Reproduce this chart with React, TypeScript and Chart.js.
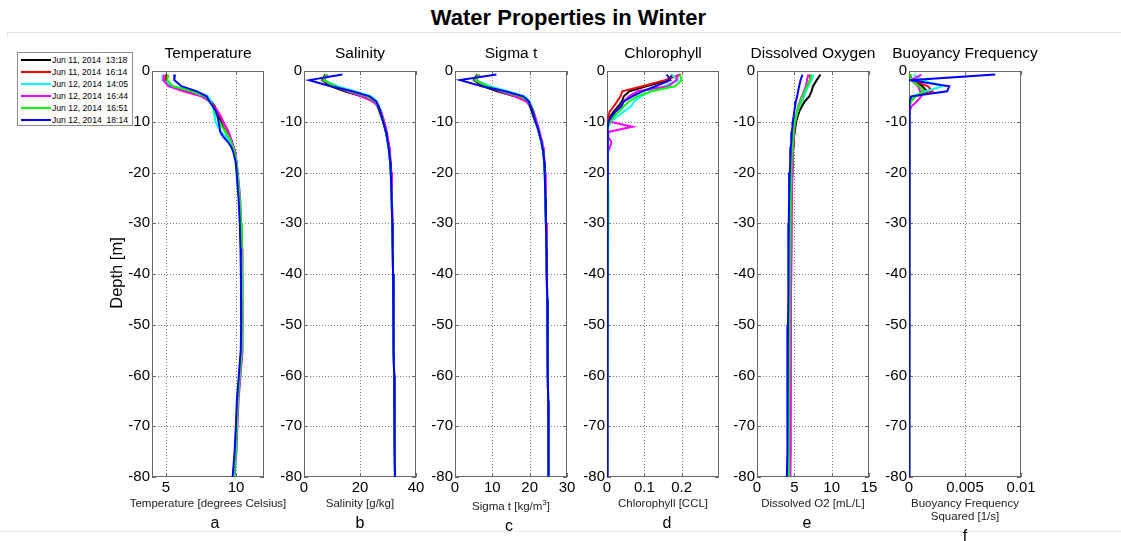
import React, { useEffect, useRef } from 'react';
import { Chart, registerables } from 'chart.js';

Chart.register(...registerables);

const FONT = '"Liberation Sans", Arial, Helvetica, sans-serif';

// ---- series (one CTD cast each) ----
const seriesLabels = [
  'Jun 11, 2014  13:18',
  'Jun 11, 2014  16:14',
  'Jun 12, 2014  14:05',
  'Jun 12, 2014  16:44',
  'Jun 12, 2014  16:51',
  'Jun 12, 2014  18:14',
];
const seriesColors = ['#000000', '#ff0000', '#00ffff', '#ff00ff', '#00ff00', '#0000ff'];

// ---- depth levels shared by every cast [m] ----
const depth = [-0.7, -1.8, -3, -4, -5, -6, -7, -8, -9, -10, -11, -12, -13, -14, -15, -16, -18, -20, -25, -30, -35, -40, -45, -50, -55, -60, -65, -70, -75, -80];
const depthTicks = [0, -10, -20, -30, -40, -50, -60, -70, -80];

// ---- Temperature [degrees Celsius] ----
const temperature = [
  [5.05, 5.00, 5.33, 6.46, 7.64, 8.23, 8.49, 8.63, 8.77, 8.92, 9.06, 9.25, 9.48, 9.67, 9.80, 9.93, 10.02, 10.08, 10.22, 10.32, 10.36, 10.40, 10.41, 10.40, 10.38, 10.24, 10.10, 10.04, 9.95, 9.80],
  [5.00, 4.93, 5.40, 6.70, 7.64, 8.16, 8.47, 8.70, 8.87, 9.06, 9.25, 9.43, 9.58, 9.72, 9.83, 9.95, 10.03, 10.10, 10.25, 10.34, 10.40, 10.42, 10.43, 10.44, 10.42, 10.28, 10.14, 10.06, 9.98, 9.84],
  [4.76, 4.76, 5.50, 7.17, 8.00, 8.23, 8.35, 8.40, 8.47, 8.54, 8.70, 8.94, 9.29, 9.58, 9.76, 9.88, 10.04, 10.12, 10.27, 10.36, 10.41, 10.44, 10.45, 10.46, 10.44, 10.30, 10.16, 10.08, 10.04, 9.90],
  [4.86, 4.81, 5.17, 6.23, 7.52, 8.11, 8.40, 8.70, 8.94, 9.10, 9.29, 9.48, 9.60, 9.72, 9.83, 9.95, 10.05, 10.13, 10.30, 10.38, 10.44, 10.46, 10.47, 10.48, 10.46, 10.32, 10.18, 10.10, 10.02, 9.88],
  [5.17, 5.09, 5.47, 6.82, 7.76, 8.16, 8.35, 8.49, 8.63, 8.82, 9.01, 9.25, 9.48, 9.65, 9.79, 9.91, 10.03, 10.11, 10.27, 10.36, 10.42, 10.44, 10.45, 10.44, 10.42, 10.27, 10.13, 10.06, 9.99, 9.85],
  [5.64, 5.59, 6.10, 7.20, 7.90, 8.11, 8.35, 8.58, 8.70, 8.75, 8.82, 8.87, 9.10, 9.43, 9.67, 9.81, 9.98, 10.04, 10.18, 10.27, 10.32, 10.35, 10.36, 10.37, 10.34, 10.20, 10.06, 9.99, 9.90, 9.76],
];
const temperatureTicks = [5, 10];

// ---- Salinity [g/kg] ----
const salinity = [
  [7.6, 6.5, 9.5, 14.5, 20.5, 25.0, 26.3, 27.0, 27.6, 28.2, 28.7, 29.2, 29.6, 29.9, 30.2, 30.4, 30.8, 31.0, 31.3, 31.5, 31.7, 31.8, 31.9, 32.0, 32.1, 32.2, 32.3, 32.4, 32.4, 32.5],
  [7.8, 6.8, 10.5, 16.0, 22.0, 25.3, 26.6, 27.3, 27.8, 28.4, 28.9, 29.4, 29.7, 30.0, 30.3, 30.5, 30.9, 31.1, 31.4, 31.6, 31.7, 31.8, 31.9, 32.0, 32.1, 32.2, 32.3, 32.4, 32.5, 32.5],
  [8.0, 7.0, 12.0, 18.0, 24.0, 26.0, 26.9, 27.5, 28.0, 28.5, 28.9, 29.3, 29.6, 29.9, 30.2, 30.4, 30.8, 31.0, 31.3, 31.5, 31.7, 31.8, 31.9, 32.0, 32.1, 32.2, 32.3, 32.4, 32.4, 32.5],
  [8.5, 7.2, 11.0, 15.5, 20.5, 24.5, 26.7, 27.6, 28.2, 28.7, 29.2, 29.6, 29.9, 30.2, 30.5, 30.7, 31.0, 31.2, 31.4, 31.6, 31.7, 31.8, 31.9, 32.0, 32.1, 32.2, 32.3, 32.4, 32.5, 32.5],
  [8.2, 7.0, 11.0, 16.5, 22.5, 25.5, 26.7, 27.4, 27.9, 28.4, 28.8, 29.3, 29.6, 29.9, 30.2, 30.4, 30.8, 31.0, 31.3, 31.5, 31.7, 31.8, 31.9, 32.0, 32.1, 32.2, 32.3, 32.4, 32.4, 32.5],
  [13.7, 1.9, 9.5, 17.3, 23.4, 25.8, 26.7, 27.3, 27.8, 28.3, 28.8, 29.3, 29.6, 29.9, 30.2, 30.4, 30.8, 31.0, 31.3, 31.5, 31.7, 31.8, 31.9, 32.0, 32.1, 32.2, 32.3, 32.4, 32.4, 32.5],
];
const salinityTicks = [0, 20, 40];

// ---- Sigma t [kg/m^3] ----
const sigmaT = [
  [5.9, 5.1, 7.4, 11.3, 16.0, 19.3, 20.1, 20.6, 21.0, 21.5, 22.0, 22.4, 22.8, 23.1, 23.4, 23.6, 23.9, 24.05, 24.2, 24.35, 24.5, 24.6, 24.7, 24.8, 24.85, 24.9, 24.95, 25.0, 25.05, 25.1],
  [6.1, 5.3, 8.2, 12.5, 17.2, 19.6, 20.4, 20.9, 21.3, 21.7, 22.1, 22.5, 22.8, 23.2, 23.4, 23.7, 23.95, 24.1, 24.25, 24.4, 24.5, 24.6, 24.7, 24.8, 24.85, 24.9, 24.95, 25.0, 25.05, 25.1],
  [6.3, 5.5, 9.4, 14.0, 18.7, 20.0, 20.6, 21.0, 21.4, 21.7, 22.1, 22.5, 22.8, 23.1, 23.4, 23.7, 23.9, 24.05, 24.2, 24.35, 24.5, 24.6, 24.7, 24.8, 24.85, 24.9, 24.95, 25.0, 25.05, 25.1],
  [6.6, 5.6, 8.6, 12.1, 16.0, 19.0, 20.5, 21.1, 21.5, 21.9, 22.3, 22.7, 23.0, 23.4, 23.6, 23.8, 24.0, 24.15, 24.3, 24.4, 24.5, 24.6, 24.7, 24.8, 24.85, 24.9, 24.95, 25.0, 25.05, 25.1],
  [6.4, 5.5, 8.6, 12.9, 17.6, 19.8, 20.4, 20.9, 21.2, 21.6, 22.1, 22.5, 22.8, 23.2, 23.4, 23.7, 23.9, 24.05, 24.2, 24.35, 24.5, 24.6, 24.7, 24.8, 24.85, 24.9, 24.95, 25.0, 25.05, 25.1],
  [11.1, 1.35, 7.2, 13.5, 18.3, 19.8, 20.3, 20.8, 21.2, 21.6, 22.1, 22.5, 22.8, 23.2, 23.4, 23.7, 23.9, 24.05, 24.2, 24.35, 24.5, 24.6, 24.7, 24.8, 24.85, 24.9, 24.95, 25.0, 25.05, 25.1],
];
const sigmaTicks = [0, 10, 20, 30];

// ---- Chlorophyll [CCL] ----
const chlorophyll = [
  [0.175, 0.165, 0.105, 0.060, 0.045, 0.040, 0.030, 0.018, 0.008, 0.003, 0.002, 0.002, 0.001, 0.001, 0.001, 0.001, 0.001, 0.001, 0.001, 0.001, 0.001, 0.001, 0.001, 0.001, 0.001, 0.001, 0.001, 0.001, 0.001, 0.001],
  [0.198, 0.155, 0.095, 0.041, 0.036, 0.027, 0.018, 0.007, 0.003, 0.001, 0.001, 0.001, 0.001, 0.001, 0.001, 0.001, 0.002, 0.001, 0.001, 0.001, 0.001, 0.001, 0.001, 0.001, 0.001, 0.001, 0.001, 0.001, 0.001, 0.001],
  [0.173, 0.190, 0.155, 0.118, 0.090, 0.073, 0.064, 0.045, 0.027, 0.009, 0.003, 0.002, 0.002, 0.002, 0.001, 0.001, 0.001, 0.001, 0.001, 0.001, 0.001, 0.001, 0.001, 0.001, 0.001, 0.001, 0.001, 0.001, 0.001, 0.001],
  [0.190, 0.186, 0.164, 0.082, 0.059, 0.045, 0.036, 0.023, 0.014, 0.009, 0.068, 0.004, 0.003, 0.012, 0.008, 0.002, 0.002, 0.003, 0.002, 0.002, 0.002, 0.002, 0.002, 0.002, 0.002, 0.002, 0.002, 0.002, 0.002, 0.002],
  [0.195, 0.200, 0.182, 0.118, 0.082, 0.059, 0.045, 0.032, 0.018, 0.009, 0.003, 0.002, 0.002, 0.002, 0.002, 0.002, 0.002, 0.002, 0.004, 0.003, 0.003, 0.002, 0.002, 0.002, 0.001, 0.001, 0.001, 0.001, 0.001, 0.001],
  [0.160, 0.170, 0.130, 0.095, 0.068, 0.045, 0.038, 0.023, 0.011, 0.004, 0.002, 0.001, 0.001, 0.001, 0.001, 0.001, 0.001, 0.001, 0.001, 0.001, 0.001, 0.001, 0.001, 0.001, 0.001, 0.001, 0.001, 0.001, 0.001, 0.001],
];
const chlorophyllTicks = [0, 0.1, 0.2];

// ---- Dissolved O2 [mL/L] ----
const oxygen = [
  [8.50, 8.00, 7.50, 7.30, 7.00, 6.40, 6.00, 5.65, 5.43, 5.25, 5.15, 5.05, 4.95, 4.90, 4.85, 4.80, 4.75, 4.70, 4.60, 4.55, 4.50, 4.50, 4.45, 4.45, 4.40, 4.40, 4.35, 4.35, 4.30, 4.30],
  [7.20, 7.10, 6.70, 6.40, 6.30, 6.00, 5.65, 5.45, 5.30, 5.15, 5.05, 5.00, 4.95, 4.90, 4.85, 4.80, 4.75, 4.70, 4.65, 4.60, 4.58, 4.55, 4.52, 4.50, 4.50, 4.48, 4.46, 4.44, 4.42, 4.40],
  [7.60, 7.30, 6.86, 6.55, 6.28, 5.96, 5.65, 5.43, 5.25, 5.10, 5.00, 4.90, 4.85, 4.80, 4.75, 4.70, 4.65, 4.60, 4.52, 4.48, 4.45, 4.42, 4.40, 4.38, 4.36, 4.35, 4.34, 4.32, 4.31, 4.30],
  [6.86, 6.70, 6.55, 6.28, 6.00, 5.74, 5.50, 5.34, 5.20, 5.05, 5.00, 4.95, 4.90, 4.85, 4.82, 4.78, 4.74, 4.70, 4.65, 4.62, 4.60, 4.58, 4.55, 4.55, 4.52, 4.50, 4.48, 4.46, 4.44, 4.42],
  [7.30, 7.10, 6.70, 6.40, 6.10, 5.83, 5.56, 5.38, 5.20, 5.05, 4.95, 4.90, 4.85, 4.80, 4.75, 4.70, 4.65, 4.60, 4.52, 4.47, 4.43, 4.40, 4.37, 4.35, 4.32, 4.30, 4.27, 4.25, 4.22, 4.20],
  [6.10, 5.83, 5.65, 5.50, 5.38, 5.20, 5.10, 4.98, 4.90, 4.80, 4.75, 4.66, 4.62, 4.57, 4.52, 4.48, 4.42, 4.40, 4.30, 4.25, 4.22, 4.20, 4.17, 4.15, 4.12, 4.10, 4.07, 4.05, 4.02, 4.00],
];
const oxygenTicks = [0, 5, 10, 15];

// ---- Buoyancy frequency squared [1/s] ----
const buoyancy = [
  [0.0001, 0.0002, 0.0012, 0.0016, 0.0005, 0.0001, 0.00003, 0.00002, 0.00002, 0.00002, 0.00002, 0.00002, 0.00002, 0.00002, 0.00002, 0.00002, 0.00002, 0.00002, 0.00002, 0.00002, 0.00002, 0.00002, 0.00002, 0.00002, 0.00002, 0.00002, 0.00002, 0.00002, 0.00002, 0.00002],
  [0.0001, 0.0003, 0.0017, 0.0021, 0.0006, 0.0001, 0.00003, 0.00002, 0.00002, 0.00002, 0.00002, 0.00002, 0.00002, 0.00002, 0.00002, 0.00002, 0.00002, 0.00002, 0.00002, 0.00002, 0.00002, 0.00002, 0.00002, 0.00002, 0.00002, 0.00002, 0.00002, 0.00002, 0.00002, 0.00002],
  [0.0004, 0.0012, 0.0030, 0.0015, 0.0003, 0.0001, 0.00003, 0.00002, 0.00002, 0.00002, 0.00002, 0.00002, 0.00002, 0.00002, 0.00002, 0.00002, 0.00002, 0.00002, 0.00002, 0.00002, 0.00002, 0.00002, 0.00002, 0.00002, 0.00002, 0.00002, 0.00002, 0.00002, 0.00002, 0.00002],
  [0.0011, 0.0002, 0.0008, 0.0010, 0.0011, 0.0007, 0.0002, 0.00003, 0.00002, 0.00002, 0.00002, 0.00002, 0.00002, 0.00002, 0.00002, 0.00002, 0.00002, 0.00002, 0.00002, 0.00002, 0.00002, 0.00002, 0.00002, 0.00002, 0.00002, 0.00002, 0.00002, 0.00002, 0.00002, 0.00002],
  [0.0001, 0.0002, 0.0009, 0.0013, 0.0006, 0.0002, 0.00003, 0.00002, 0.00002, 0.00002, 0.00002, 0.00002, 0.00002, 0.00002, 0.00002, 0.00002, 0.00002, 0.00002, 0.00002, 0.00002, 0.00002, 0.00002, 0.00002, 0.00002, 0.00002, 0.00002, 0.00002, 0.00002, 0.00002, 0.00002],
  [0.0077, 0.0001, 0.0036, 0.0034, 0.0002, 0.00005, 0.00003, 0.00002, 0.00002, 0.00002, 0.00002, 0.00002, 0.00002, 0.00002, 0.00002, 0.00002, 0.00002, 0.00002, 0.00002, 0.00002, 0.00002, 0.00002, 0.00002, 0.00002, 0.00002, 0.00002, 0.00002, 0.00002, 0.00002, 0.00002],
];
const buoyancyTicks = [0, 0.005, 0.01];

// ---- layout ----
const PLOT_TOP = 71;
const PLOT_H = 406;
const PLOT_W = 112;
const CANVAS_TOP = 36;
const CANVAS_H = 541 - CANVAS_TOP;
const Y_AXIS_W = 70;
const PAD_RIGHT = 50;
const GRID_COLOR = '#808080';
const BOX_COLOR = '#6a6a6a';

type Segment = { text: string; sup?: boolean };
type Panel = {
  title: string;
  label: Segment[][];
  letter: string;
  values: number[][];
  min: number;
  max: number;
  ticks: number[];
  left: number;
  labelDrop: number;
  letterShift: number;
};

const panels: Panel[] = [
  { title: 'Temperature', label: [[{ text: 'Temperature [degrees Celsius]' }]], letter: 'a', values: temperature, min: 4, max: 12, ticks: temperatureTicks, left: 152, labelDrop: 0, letterShift: 7 },
  { title: 'Salinity', label: [[{ text: 'Salinity [g/kg]' }]], letter: 'b', values: salinity, min: 0, max: 40, ticks: salinityTicks, left: 304, labelDrop: 0, letterShift: 0 },
  { title: 'Sigma t', label: [[{ text: 'Sigma t [kg/m' }, { text: '3', sup: true }, { text: ']' }]], letter: 'c', values: sigmaT, min: 0, max: 30, ticks: sigmaTicks, left: 455, labelDrop: 3, letterShift: -2 },
  { title: 'Chlorophyll', label: [[{ text: 'Chlorophyll [CCL]' }]], letter: 'd', values: chlorophyll, min: 0, max: 0.3, ticks: chlorophyllTicks, left: 607, labelDrop: 0, letterShift: 4 },
  { title: 'Dissolved Oxygen', label: [[{ text: 'Dissolved O2 [mL/L]' }]], letter: 'e', values: oxygen, min: 0, max: 15, ticks: oxygenTicks, left: 757, labelDrop: 0, letterShift: -6 },
  { title: 'Buoyancy Frequency', label: [[{ text: 'Buoyancy Frequency' }], [{ text: 'Squared [1/s]' }]], letter: 'f', values: buoyancy, min: 0, max: 0.01, ticks: buoyancyTicks, left: 909, labelDrop: 0, letterShift: 0 },
];

function makeDecor(panel: Panel, index: number) {
  return {
    id: 'panelDecor' + index,
    beforeDatasetsDraw(chart: any) {
      const { ctx, chartArea } = chart;
      const { left, right, top, bottom } = chartArea;
      const xs = chart.scales.x;
      const ys = chart.scales.y;
      ctx.save();
      // dotted grid at interior ticks
      ctx.strokeStyle = GRID_COLOR;
      ctx.lineWidth = 1;
      ctx.setLineDash([1, 2]);
      panel.ticks.forEach((v) => {
        if (v <= panel.min || v >= panel.max) return;
        const px = Math.round(xs.getPixelForValue(v)) + 0.5;
        ctx.beginPath();
        ctx.moveTo(px, top);
        ctx.lineTo(px, bottom);
        ctx.stroke();
      });
      depthTicks.forEach((v) => {
        if (v <= -80 || v >= 0) return;
        const py = Math.round(ys.getPixelForValue(v)) + 0.5;
        ctx.beginPath();
        ctx.moveTo(left, py);
        ctx.lineTo(right, py);
        ctx.stroke();
      });
      ctx.setLineDash([]);
      // box and inward tick marks
      ctx.strokeStyle = BOX_COLOR;
      ctx.strokeRect(left + 0.5, top + 0.5, right - left - 1, bottom - top - 1);
      ctx.beginPath();
      panel.ticks.forEach((v) => {
        const px = Math.round(xs.getPixelForValue(v)) + 0.5;
        ctx.moveTo(px, bottom);
        ctx.lineTo(px, bottom - 4);
        ctx.moveTo(px, top);
        ctx.lineTo(px, top + 4);
      });
      depthTicks.forEach((v) => {
        const py = Math.round(ys.getPixelForValue(v)) + 0.5;
        ctx.moveTo(left, py);
        ctx.lineTo(left + 4, py);
        ctx.moveTo(right, py);
        ctx.lineTo(right - 4, py);
      });
      ctx.stroke();
      ctx.restore();
    },
    afterDraw(chart: any) {
      const { ctx, chartArea } = chart;
      const cx = (chartArea.left + chartArea.right) / 2;
      ctx.save();
      ctx.fillStyle = '#000';
      ctx.textBaseline = 'alphabetic';
      // panel title
      ctx.font = `15.5px ${FONT}`;
      ctx.textAlign = 'center';
      ctx.fillText(panel.title, cx, 58 - CANVAS_TOP);
      // x-axis label, possibly multi-line with a superscript
      ctx.textAlign = 'left';
      ctx.fillStyle = '#222';
      const baseline = 507 - CANVAS_TOP + panel.labelDrop;
      panel.label.forEach((line, li) => {
        const y = baseline + li * 13;
        let total = 0;
        line.forEach((seg) => {
          ctx.font = seg.sup ? `8px ${FONT}` : `11.5px ${FONT}`;
          total += ctx.measureText(seg.text).width;
        });
        let x = cx - total / 2;
        line.forEach((seg) => {
          ctx.font = seg.sup ? `8px ${FONT}` : `11.5px ${FONT}`;
          ctx.fillText(seg.text, x, seg.sup ? y - 5 : y);
          x += ctx.measureText(seg.text).width;
        });
      });
      const lastBaseline = baseline + (panel.label.length - 1) * 13;
      // panel letter
      ctx.fillStyle = '#000';
      ctx.textAlign = 'center';
      ctx.font = `16px ${FONT}`;
      ctx.fillText(panel.letter, cx + panel.letterShift, lastBaseline + 21);
      // shared depth label on the first panel
      if (index === 0) {
        ctx.save();
        ctx.translate(117 - (panel.left - Y_AXIS_W), 273 - CANVAS_TOP);
        ctx.rotate(-Math.PI / 2);
        ctx.font = `16.5px ${FONT}`;
        ctx.textAlign = 'center';
        ctx.textBaseline = 'middle';
        ctx.fillText('Depth [m]', 0, 0);
        ctx.restore();
      }
      ctx.restore();
    },
  };
}

function PanelChart({ panel, index }: { panel: Panel; index: number }) {
  const ref = useRef<HTMLCanvasElement>(null);
  useEffect(() => {
    const canvas = ref.current;
    if (!canvas) return;
    const datasets = panel.values.map((vals, s) => ({
      label: seriesLabels[s],
      data: vals.map((v, k) => ({ x: v, y: depth[k] })),
      showLine: true,
      borderColor: seriesColors[s],
      backgroundColor: seriesColors[s],
      borderWidth: 2,
      pointRadius: 0,
      pointHoverRadius: 0,
      fill: false,
      tension: 0,
      order: -s,
    }));
    const tickFont = { family: FONT, size: 15 };
    const chart = new Chart(canvas, {
      type: 'scatter',
      data: { datasets },
      options: {
        animation: false,
        responsive: false,
        devicePixelRatio: 1,
        events: [],
        layout: { padding: { left: 0, right: PAD_RIGHT, top: PLOT_TOP - CANVAS_TOP, bottom: 0 } },
        plugins: { legend: { display: false }, tooltip: { enabled: false }, title: { display: false } },
        scales: {
          x: {
            type: 'linear',
            position: 'bottom',
            min: panel.min,
            max: panel.max,
            grid: { display: false, drawTicks: false },
            border: { display: false },
            afterBuildTicks: (axis: any) => {
              axis.ticks = panel.ticks.map((v) => ({ value: v }));
            },
            afterFit: (axis: any) => {
              axis.height = CANVAS_H - (PLOT_TOP - CANVAS_TOP) - PLOT_H;
              axis.paddingLeft = 0;
              axis.paddingRight = 0;
            },
            ticks: {
              font: tickFont,
              color: '#000',
              padding: 2,
              maxRotation: 0,
              minRotation: 0,
              autoSkip: false,
              callback: (v: any) => String(v),
            },
          },
          y: {
            type: 'linear',
            position: 'left',
            min: -80,
            max: 0,
            grid: { display: false, drawTicks: false },
            border: { display: false },
            afterBuildTicks: (axis: any) => {
              axis.ticks = depthTicks.map((v) => ({ value: v }));
            },
            afterFit: (axis: any) => {
              axis.width = Y_AXIS_W;
              axis.paddingTop = 0;
              axis.paddingBottom = 0;
            },
            ticks: {
              font: tickFont,
              color: '#000',
              padding: 2,
              autoSkip: false,
              callback: (v: any) => String(v),
            },
          },
        },
      },
      plugins: [makeDecor(panel, index)],
    });
    return () => chart.destroy();
  }, [panel, index]);

  return (
    <canvas
      ref={ref}
      width={Y_AXIS_W + PLOT_W + PAD_RIGHT}
      height={CANVAS_H}
      style={{ position: 'absolute', left: panel.left - Y_AXIS_W, top: CANVAS_TOP, display: 'block' }}
    />
  );
}

function Legend() {
  return (
    <div
      style={{
        position: 'absolute',
        left: 17,
        top: 52,
        width: 114,
        height: 71,
        border: '1px solid #8c8c8c',
        background: '#fff',
        zIndex: 2,
        paddingTop: 1,
        boxSizing: 'content-box',
      }}
    >
      {seriesLabels.map((label, i) => (
        <div key={i} style={{ position: 'relative', height: 12.1 }}>
          <div style={{ position: 'absolute', left: 3, top: 5, width: 30, height: 2, background: seriesColors[i] }} />
          <div
            style={{
              position: 'absolute',
              left: 34,
              top: 0,
              lineHeight: '12px',
              fontSize: 8.6,
              fontFamily: FONT,
              whiteSpace: 'pre',
              color: '#000',
            }}
          >
            {label}
          </div>
        </div>
      ))}
    </div>
  );
}

export default function App() {
  return (
    <div
      style={{
        position: 'absolute',
        left: 0,
        top: 0,
        width: 1121,
        height: 541,
        overflow: 'hidden',
        background: '#fff',
        fontFamily: FONT,
      }}
    >
      <div
        style={{
          position: 'absolute',
          left: 0,
          top: 7,
          width: 1137,
          textAlign: 'center',
          fontWeight: 'bold',
          fontSize: 22,
          lineHeight: '22px',
          color: '#000',
        }}
      >
        Water Properties in Winter
      </div>
      <div style={{ position: 'absolute', left: 7, top: 32, width: 1114, height: 1, background: '#e2e2e2' }} />
      <div style={{ position: 'absolute', left: 7, top: 32, width: 1, height: 5, background: '#e2e2e2' }} />
      <div style={{ position: 'absolute', left: 0, top: 531, width: 1121, height: 1, background: '#ececec' }} />
      {panels.map((p, i) => (
        <PanelChart key={i} panel={p} index={i} />
      ))}
      <Legend />
    </div>
  );
}
